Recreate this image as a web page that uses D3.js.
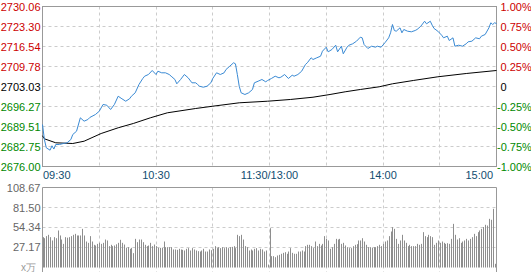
<!DOCTYPE html>
<html><head><meta charset="utf-8">
<script src="https://cdn.jsdelivr.net/npm/d3@7/dist/d3.min.js"></script>
<style>
html,body{margin:0;padding:0;background:#fff;}
svg{display:block;font-family:Arial,"Liberation Sans",sans-serif;}
</style></head>
<body>
<svg id="c" width="531" height="272"></svg>
<script>
// ---------- data ----------
const priceLabels = ["2730.06","2723.30","2716.54","2709.78","2703.03","2696.27","2689.51","2682.75","2676.00"];
const pctLabels = ["1.00%","0.75%","0.50%","0.25%","0","-0.25%","-0.50%","-0.75%","-1.00%"];
const volLabels = ["108.67","81.50","54.34","27.17"];
const timeLabels = ["09:30","10:30","11:30/13:00","14:00","15:00"];
const timeTickMinutes = [0,60,120,180,240];
const priceMin = 2676.00, priceMax = 2730.06, volMax = 108.67;

const priceMinute = [0,1,2,4,5,6,7,9,11,13,15,16,18,20,22,24,25,28,30,32,34,36,38,40,42,44,46,47,49,51,53,54,56,58,60,61,63,65,67,68,70,71,73,75,77,79,81,82,83,85,87,89,90,92,94,96,97,99,101,102,103,104,105,107,109,111,112,114,116,118,119,121,123,125,126,128,130,132,133,135,137,139,140,142,143,145,147,148,150,151,153,155,156,158,159,161,162,164,166,168,169,170,172,174,176,177,179,181,183,184,185,186,187,189,190,191,193,195,197,198,200,202,203,205,206,207,209,211,212,214,215,217,218,220,222,224,225,227,229,231,232,234,236,237,238,239,240];
const priceValue = [2690.19,2685.12,2682.32,2681.51,2683.0,2681.9,2683.43,2683.43,2683.77,2684.01,2685.12,2686.81,2687.93,2692.45,2691.31,2691.88,2692.56,2693.57,2694.68,2696.95,2696.71,2695.26,2696.95,2699.75,2698.87,2698.06,2698.87,2699.75,2700.90,2703.71,2705.73,2706.51,2707.08,2708.44,2707.08,2708.20,2707.66,2707.66,2707.08,2706.51,2705.40,2703.94,2705.40,2707.08,2705.97,2704.28,2704.28,2703.71,2703.13,2702.79,2703.13,2704.28,2705.73,2707.66,2707.08,2707.66,2708.77,2709.89,2711.04,2710.70,2707.08,2703.13,2700.90,2700.33,2700.90,2702.02,2704.28,2704.82,2705.40,2704.62,2705.06,2705.73,2706.51,2705.97,2706.17,2707.08,2705.73,2706.85,2706.51,2707.08,2708.20,2710.46,2711.04,2712.73,2712.15,2712.73,2713.27,2714.96,2716.31,2714.75,2715.53,2716.98,2714.75,2716.65,2714.08,2716.31,2716.98,2717.46,2718.34,2719.69,2719.48,2717.22,2715.87,2716.65,2716.31,2716.65,2716.31,2717.80,2719.48,2721.17,2723.98,2721.95,2721.71,2722.86,2721.17,2722.29,2721.71,2721.51,2721.95,2722.29,2723.40,2725.09,2724.21,2725.09,2723.74,2722.63,2721.71,2720.36,2719.48,2720.03,2718.57,2719.48,2716.65,2716.98,2716.65,2717.46,2718.13,2718.34,2719.48,2719.15,2720.03,2720.60,2722.86,2724.55,2723.98,2724.55,2724.32];

const avgMinute = [0,1,7,16,22,31,40,48,57,66,81,90,104,119,131,143,152,160,168,178,185,196,209,224,240];
const avgValue = [2686.4,2685.36,2684.01,2683.77,2684.55,2687.15,2689.08,2690.53,2692.45,2694.14,2695.60,2696.37,2697.52,2698.06,2698.64,2699.41,2700.33,2701.24,2702.02,2702.93,2703.94,2705.06,2706.31,2707.42,2708.44];

const volume = [
41.2,39.8,42.6,44.4,41.2,36.7,41.2,39.8,50.3,43.5,38.0,32.1,41.2,40.5,41.2,42.6,44.4,45.7,43.5,43.5,
43.5,52.5,43.5,35.3,33.5,42.6,35.3,30.8,29.9,32.1,33.5,32.1,33.5,38.0,36.7,29.0,30.8,29.0,29.9,31.5,
33.5,37.6,33.5,31.2,26.7,27.6,25.4,26.7,19.5,38.9,34.4,38.0,38.0,34.4,30.8,29.0,29.9,33.5,29.0,31.2,
29.0,26.7,26.7,26.7,35.3,27.6,27.6,27.6,27.6,24.5,24.5,24.0,25.4,24.5,24.0,23.1,25.4,26.3,
23.1,26.3,24.5,23.1,22.2,21.7,23.1,25.4,21.7,21.7,24.5,23.5,25.4,29.0,26.3,27.6,26.3,27.6,26.3,27.6,
26.3,27.6,28.0,29.0,26.3,44.4,42.6,44.4,38.0,29.0,27.6,23.1,24.5,23.1,25.4,26.3,23.1,25.4,24.5,21.7,
23.1,4.0,53.4,
15.4,15.4,14.0,16.3,17.2,18.6,19.9,20.8,18.6,21.7,26.3,19.9,18.6,18.6,21.7,21.7,23.1,21.7,29.0,30.8,
30.8,29.0,26.3,35.3,29.0,32.1,29.9,32.1,42.6,38.9,36.7,25.4,27.6,32.1,38.9,38.0,
38.9,32.1,33.5,29.9,27.6,26.3,26.3,29.0,30.8,31.7,36.7,36.7,39.8,35.3,30.8,27.6,27.6,26.8,27.6,27.6,
29.0,30.8,29.0,32.1,35.3,36.7,42.6,48.9,54.8,52.5,38.9,32.1,36.7,44.4,36.7,33.5,29.0,30.8,29.0,29.0,
29.0,32.1,30.8,32.1,48.0,42.6,41.2,44.4,42.6,41.2,30.8,33.5,36.7,33.5,35.3,33.5,32.1,33.0,32.1,38.9,
59.3,44.4,38.0,39.8,33.5,35.3,36.7,38.9,36.7,38.9,41.2,45.7,42.6,48.0,50.3,52.5,55.0,58.0,57.0,66.1,
64.8,79.7,5.0];

// ---------- layout ----------
const L = 42.5, R = 496.5;
const mainTop = 6.5, mainBot = 166.5;
const volTop = 187.5, volBot = 267.5;
const red = "#cc0000", green = "#008800", grid = "#cccccc", border = "#999999";

const svg = d3.select("#c");
const x = d3.scaleLinear().domain([0,240]).range([L, R]);
const y = d3.scaleLinear().domain([priceMin, priceMax]).range([mainBot, mainTop]);
const yv = d3.scaleLinear().domain([0, volMax]).range([volBot, volTop]);
const gridX = d3.range(30, 240, 30).map(m => Math.floor(x(m)) + 0.5);

// main grid
const gMain = svg.append("g");
priceLabels.forEach((t,i) => {
  if (i === 0 || i === priceLabels.length-1) return;
  const yy = Math.round(y(+t) - 0.5) + 0.5;
  gMain.append("line").attr("x1",L).attr("x2",R).attr("y1",yy).attr("y2",yy)
    .attr("stroke",grid).attr("stroke-dasharray","3,3");
});
gridX.forEach(xx => gMain.append("line").attr("x1",xx).attr("x2",xx).attr("y1",mainTop).attr("y2",mainBot)
    .attr("stroke",grid).attr("stroke-dasharray","3,3"));
gMain.append("rect").attr("x",L).attr("y",mainTop).attr("width",R-L).attr("height",mainBot-mainTop)
  .attr("fill","none").attr("stroke",border);

// price labels
const mid = 4;
priceLabels.forEach((t,i) => {
  svg.append("text").attr("x",40.5).attr("y",y(+t)+4).attr("text-anchor","end")
    .attr("font-size",11).attr("fill", i<mid ? red : (i===mid ? "#000" : green)).text(t);
});
pctLabels.forEach((t,i) => {
  const yy = y(priceMax - i*(priceMax-priceMin)/8);
  svg.append("text").attr("x", t.startsWith("-") ? 497 : 500.5).attr("y",yy+4)
    .attr("font-size",11).attr("fill", i<mid ? red : (i===mid ? "#000" : green)).text(t);
});

// lines
const pts = priceMinute.map((m,i)=>[m, priceValue[i]]);
const avgPts = avgMinute.map((m,i)=>[m, avgValue[i]]);
const line = d3.line().x(d=>x(d[0])).y(d=>y(d[1]));
svg.append("path").attr("d",line(avgPts)).attr("fill","none").attr("stroke","#000").attr("stroke-width",1);
svg.append("path").attr("d",line(pts)).attr("fill","none").attr("stroke","#3a8ad4").attr("stroke-width",1);

// time labels
timeLabels.forEach((t,i) => {
  const m = timeTickMinutes[i];
  const anchor = i===0 ? "start" : (i===timeLabels.length-1 ? "end" : "middle");
  const xx = i===0 ? 43 : (i===timeLabels.length-1 ? 493 : x(m));
  svg.append("text").attr("x",xx).attr("y",179).attr("text-anchor",anchor)
    .attr("font-size",11).attr("fill","#114d70").text(t);
});

// volume grid
const gVol = svg.append("g");
volLabels.forEach((t,i) => {
  if (i===0) return;
  const yy = Math.round(yv(+t) - 0.5) + 0.5;
  gVol.append("line").attr("x1",L).attr("x2",R).attr("y1",yy).attr("y2",yy)
    .attr("stroke",grid).attr("stroke-dasharray","3,3");
});
gridX.forEach(xx => gVol.append("line").attr("x1",xx).attr("x2",xx).attr("y1",volTop).attr("y2",272)
    .attr("stroke",grid).attr("stroke-dasharray","3,3"));

// volume bars
svg.append("g").selectAll("line").data(volume).join("line")
  .attr("x1",(d,i)=>Math.round(x(i))+0.5).attr("x2",(d,i)=>Math.round(x(i))+0.5)
  .attr("y1",volBot).attr("y2",d=>yv(d))
  .attr("stroke","#8e8e8e").attr("stroke-width",1);

// volume border
svg.append("line").attr("x1",L).attr("x2",R).attr("y1",volTop).attr("y2",volTop).attr("stroke",border);
svg.append("line").attr("x1",L).attr("x2",L).attr("y1",volTop).attr("y2",272).attr("stroke",border);
svg.append("line").attr("x1",R).attr("x2",R).attr("y1",volTop).attr("y2",272).attr("stroke",border);

volLabels.forEach(t => {
  svg.append("text").attr("x",40.5).attr("y",yv(+t)+4).attr("text-anchor","end")
    .attr("font-size",11).attr("fill","#666").text(t);
});
svg.append("text").attr("x",36).attr("y",271).attr("text-anchor","end")
  .attr("font-size",10).attr("fill","#999").text("x万");
</script>
</body></html>
